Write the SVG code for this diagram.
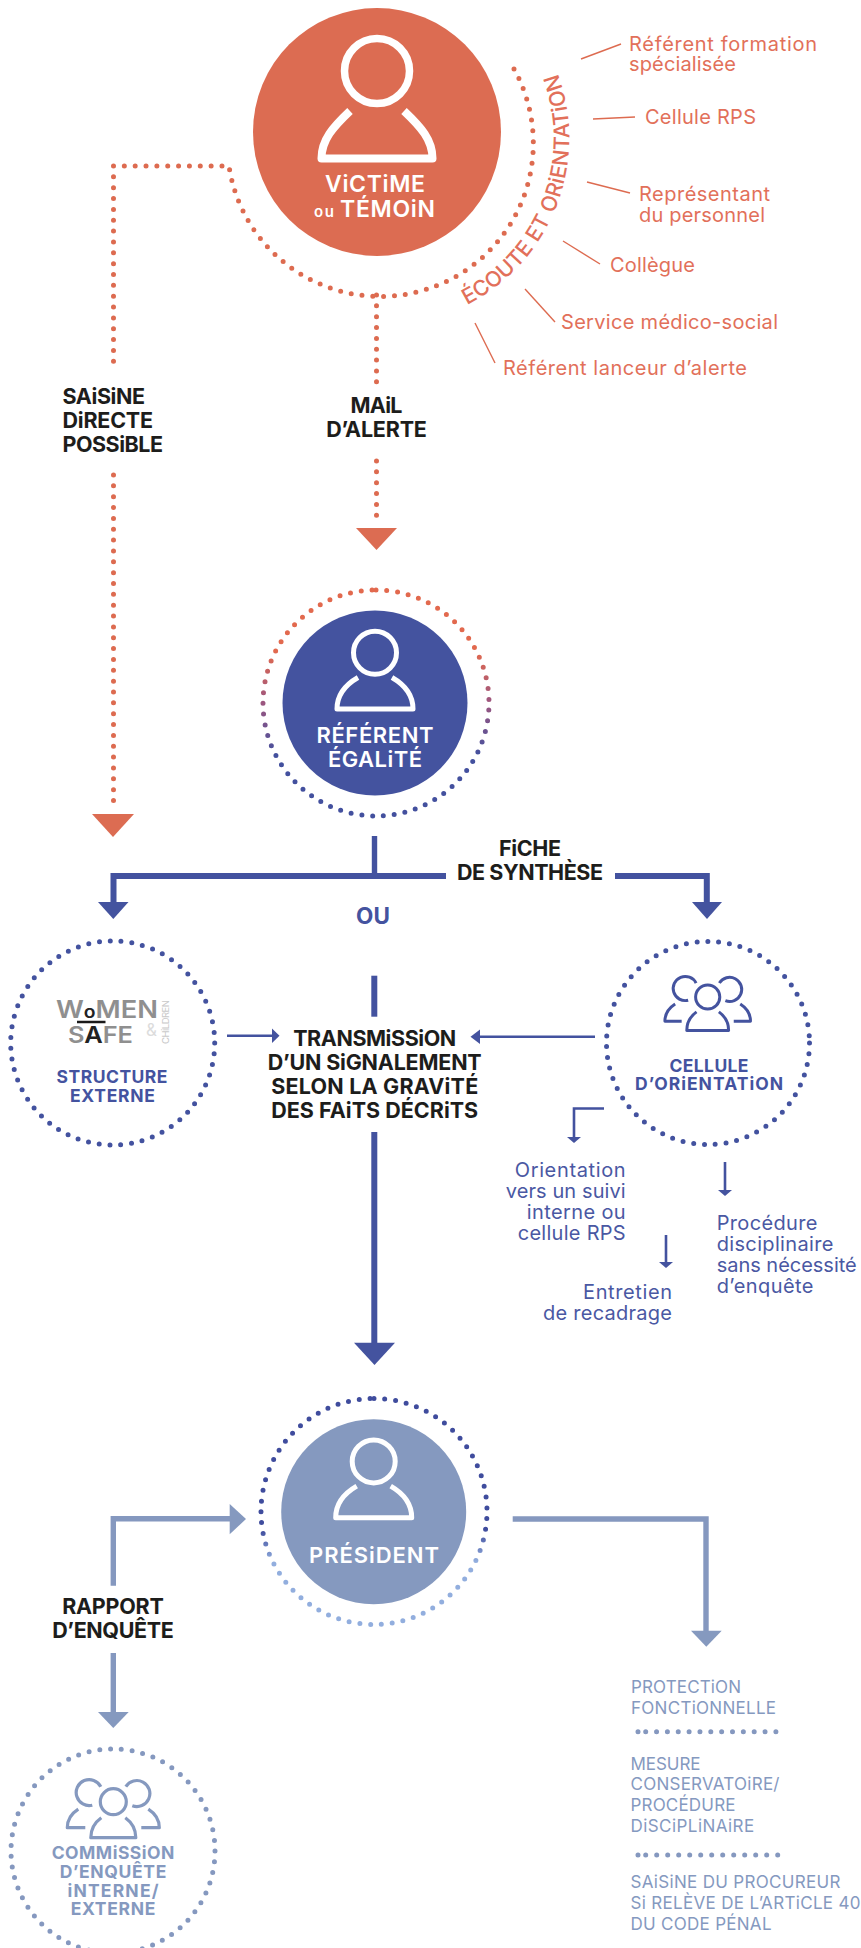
<svg xmlns="http://www.w3.org/2000/svg" xmlns:xlink="http://www.w3.org/1999/xlink" width="861" height="1948" viewBox="0 0 861 1948">
<style>
text{font-family:"Inter","Liberation Sans",sans-serif}
.dot{fill:none;stroke-width:5;stroke-linecap:round;stroke-dasharray:0 10.85}
.or{stroke:#dd6b50}.bl{stroke:#43529f}.pe{stroke:#8598bf}
.forg{fill:#dc6c52}.fblu{fill:#44539f}.fper{fill:#8599bf}
.ln{fill:none;stroke-width:5.4}.ln6{fill:none;stroke-width:6}.thin{fill:none;stroke-width:2.6}
.tick{stroke:#dd6b50;stroke-width:1.4;fill:none}
.h{font-weight:700;font-size:21.5px;fill:#1d1d1b;text-anchor:middle}
.hs{font-weight:700;font-size:21.5px;fill:#1d1d1b}
.w{font-weight:600;fill:#fff;text-anchor:middle}
.lab{font-weight:700;font-size:17.5px;text-anchor:middle}
.ot{font-size:20px;fill:#e2705a}
.bt{font-size:20px;fill:#4a58a3}
.pt{font-size:17px;fill:#8599bf}
.ic{fill:none;stroke:#fff;stroke-width:5;stroke-linejoin:round}
.pp{fill:none;stroke-width:3.2;stroke-linejoin:round}
</style>
<defs>
<linearGradient id="gr" gradientUnits="userSpaceOnUse" x1="0" y1="590" x2="0" y2="816">
<stop offset="0.27" stop-color="#e2694e"/><stop offset="0.5" stop-color="#9c5680"/><stop offset="0.73" stop-color="#43509e"/>
</linearGradient>
<linearGradient id="gp" gradientUnits="userSpaceOnUse" x1="0" y1="1398" x2="0" y2="1625">
<stop offset="0.58" stop-color="#3f4c9d"/><stop offset="0.72" stop-color="#92aede"/>
</linearGradient>
<g id="person"><circle cx="0" cy="-50.3" r="21.5"/><path d="M-17,-25.5 C-30,-18 -38,-7 -38,6 L38,6 C38,-7 30,-18 17,-25.5"/></g>
<g id="people">
<circle cx="0" cy="0" r="13"/>
<path d="M-12.5,-15 A13,13 0 1 0 -21,3.5"/>
<path d="M12.5,-15 A13,13 0 1 1 19,4"/>
<path d="M-35,7.5 C-42,12 -46,19 -46,26 L-28,26"/>
<path d="M35,7.5 C42,12 46,19 46,26 L28,26"/>
<path d="M-12,16 C-19,21 -22.500,28 -22.500,36 L22.500,36 C22.500,28 19,21 12,16"/>
</g>
</defs>

<g id="connectors">
<path class="dot or" d="M514,69 A153,153 0 1 1 229,166 L113.500,166 L113.500,367"/>
<path class="dot or" d="M113.500,475 V810"/>
<polygon class="forg" points="92,814 134,814 113,837"/>
<path class="dot or" d="M376.500,295 V385"/>
<path class="dot or" d="M376.500,461 V526"/>
<polygon class="forg" points="356,528 397,528 376.500,550"/>
<g class="tick">
<path d="M581,59 L621,44"/><path d="M593,119 L635,117"/><path d="M587,182 L630,193"/>
<path d="M563,241 L600,264"/><path d="M525,289 L555,322"/><path d="M475,323 L495,363"/>
</g>
<path class="ln bl" d="M374.500,836 V876"/>
<path class="ln6 bl" d="M446,876 H113.500 V904"/>
<path class="ln6 bl" d="M615,876 H706.800 V904"/>
<polygon class="fblu" points="98,902 128.500,902 113.300,919"/>
<polygon class="fblu" points="692,902 722,902 707,919"/>
<path class="thin bl" d="M227,1035.700 H274"/>
<polygon class="fblu" points="272,1028.500 279.500,1035.700 272,1043"/>
<path class="thin bl" d="M595,1036.700 H478"/>
<polygon class="fblu" points="480,1029.500 470.500,1036.700 480,1044"/>
<path class="ln6 bl" d="M374.300,975.700 V1016.700"/>
<path class="ln6 bl" d="M374.300,1132 V1344"/>
<polygon class="fblu" points="354,1342.700 395,1342.700 374.500,1365"/>
<path class="thin bl" d="M604,1108.500 H574 V1138"/>
<polygon class="fblu" points="567,1137 581,1137 574,1143"/>
<path class="thin bl" d="M725,1162 V1192"/>
<polygon class="fblu" points="718,1190 732,1190 725,1196"/>
<path class="thin bl" d="M666,1235 V1264"/>
<polygon class="fblu" points="659,1262 673,1262 666,1268"/>
<path class="ln pe" d="M113.300,1585.700 V1518.700 H232"/>
<polygon class="fper" points="229.700,1504 246,1519 229.700,1534.300"/>
<path class="ln pe" d="M113.300,1653 V1714"/>
<polygon class="fper" points="98,1712 128.700,1712 113.300,1728"/>
<path class="ln pe" d="M512.700,1519 H706 V1632"/>
<polygon class="fper" points="691,1630.700 721.700,1630.700 706.300,1646.700"/>
</g>

<g id="node-victime">
<circle class="forg" cx="377" cy="132" r="124"/>
<circle cx="377" cy="71" r="32.500" fill="none" stroke="#fff" stroke-width="7.500"/>
<path class="ic" style="stroke-width:8" d="M350,111 C333,127 321.500,140 321.500,158.500 L432.500,158.500 C432.500,140 421,127 404,111"/>
<text class="w" x="375" y="192" font-size="23" textLength="100">ViCTiME</text>
<text class="w" x="324" y="217" font-size="15" textLength="20">ou</text>
<text class="w" x="387.500" y="217" font-size="23" textLength="95">TÉMOiN</text>
</g>
<g id="ring-ecoute">
<path id="arcE" d="M467,305 A187,187 0 0 0 553,62" fill="none"/>
<text font-size="21.500" font-weight="500" fill="#e2705a" textLength="272"><textPath xlink:href="#arcE" href="#arcE">ÉCOUTE ET ORiENTATiON</textPath></text>
</g>
<g id="labels-ecoute">
<text class="ot" x="629" y="51" textLength="188">Référent formation</text>
<text class="ot" x="629" y="71" textLength="107">spécialisée</text>
<text class="ot" x="645" y="124" textLength="111">Cellule RPS</text>
<text class="ot" x="639" y="201" textLength="131">Représentant</text>
<text class="ot" x="639" y="222" textLength="126">du personnel</text>
<text class="ot" x="610" y="272" textLength="85">Collègue</text>
<text class="ot" x="561" y="329" textLength="217">Service médico-social</text>
<text class="ot" x="503" y="375" textLength="244">Référent lanceur d’alerte</text>
</g>
<g id="label-saisine">
<text class="hs" x="62.500" y="404" textLength="82.500">SAiSiNE</text>
<text class="hs" x="62.500" y="428" textLength="90.500">DiRECTE</text>
<text class="hs" x="62.500" y="452" textLength="100.500">POSSiBLE</text>
</g>
<g id="label-mail">
<text class="h" x="376.500" y="412.700" textLength="52">MAiL</text>
<text class="h" x="376.500" y="436.700" textLength="100.700">D’ALERTE</text>
</g>

<g id="node-referent">
<circle class="fblu" cx="375" cy="703" r="92.500"/>
<path class="dot" stroke="url(#gr)" d="M376,590 A113,113 0 0 1 489,703 A113,113 0 0 1 376,816 A113,113 0 0 1 263,703 A113,113 0 0 1 376,590"/>
<use href="#person" x="375" y="703" class="ic"/>
<text class="w" x="375" y="742.700" font-size="22" textLength="117">RÉFÉRENT</text>
<text class="w" x="375" y="766.700" font-size="22" textLength="94">ÉGALiTÉ</text>
</g>
<g id="label-fiche">
<text class="h" x="530" y="856" textLength="62">FiCHE</text>
<text class="h" x="530" y="880" textLength="146">DE SYNTHÈSE</text>
</g>
<text id="label-ou" x="373" y="924" font-size="22.500" font-weight="700" fill="#44539f" text-anchor="middle">OU</text>

<g id="node-structure">
<circle class="dot bl" cx="112.700" cy="1043" r="102" fill="none"/>
<text x="56" y="1018" font-size="24" font-weight="600" fill="#8f8f8f" textLength="102" lengthAdjust="spacingAndGlyphs">W<tspan fill="#222" font-size="17">o</tspan>MEN</text>
<path d="M77,1022 H105.500" stroke="#1a1a1a" stroke-width="2.500" fill="none"/>
<text x="68" y="1043" font-size="23" font-weight="600" fill="#8f8f8f" textLength="65" lengthAdjust="spacingAndGlyphs">S<tspan fill="#222">A</tspan>FE</text>
<text x="146" y="1036" font-size="17" fill="#dcdcdc">&amp;</text>
<text transform="translate(169,1044) rotate(-90)" font-size="9.500" fill="#c9c9c9" textLength="44">CHiLDREN</text>
<text class="lab" x="112" y="1083" fill="#44539f" textLength="111">STRUCTURE</text>
<text class="lab" x="112.500" y="1102" fill="#44539f" textLength="85">EXTERNE</text>
</g>

<g id="node-transmission">
<text class="h" x="374.700" y="1046" textLength="163">TRANSMiSSiON</text>
<text class="h" x="374.700" y="1070" textLength="214">D’UN SiGNALEMENT</text>
<text class="h" x="374.700" y="1094" textLength="207">SELON LA GRAViTÉ</text>
<text class="h" x="374.700" y="1118" textLength="207">DES FAiTS DÉCRiTS</text>
</g>

<g id="node-cellule">
<circle class="dot bl" cx="708" cy="1043" r="101.500" fill="none"/>
<use href="#people" transform="translate(707.700,997) scale(.93)" class="pp" stroke="#44539f"/>
<text class="lab" x="709" y="1072" fill="#44539f" textLength="79">CELLULE</text>
<text class="lab" x="709" y="1090" fill="#44539f" textLength="148">D’ORiENTATiON</text>
</g>
<g id="labels-cellule">
<text class="bt" x="514.700" y="1177" textLength="111">Orientation</text>
<text class="bt" x="505.700" y="1198" textLength="120">vers un suivi</text>
<text class="bt" x="526.700" y="1219" textLength="99">interne ou</text>
<text class="bt" x="517.700" y="1240" textLength="108">cellule RPS</text>
<text class="bt" x="583" y="1299" textLength="89">Entretien</text>
<text class="bt" x="543" y="1320" textLength="129">de recadrage</text>
<text class="bt" x="716.700" y="1230" textLength="100.700">Procédure</text>
<text class="bt" x="716.700" y="1251" textLength="116.700">disciplinaire</text>
<text class="bt" x="716.700" y="1272" textLength="140">sans nécessité</text>
<text class="bt" x="716.700" y="1293" textLength="96.700">d’enquête</text>
</g>

<g id="node-president">
<circle class="fper" cx="373.700" cy="1511.700" r="92.500"/>
<path class="dot" stroke="url(#gp)" d="M374,1398.500 A113,113 0 0 1 487,1511.500 A113,113 0 0 1 374,1624.500 A113,113 0 0 1 261,1511.500 A113,113 0 0 1 374,1398.500"/>
<use href="#person" x="373.700" y="1511.700" class="ic"/>
<text class="w" x="374" y="1563" font-size="22" textLength="130">PRÉSiDENT</text>
</g>
<g id="label-rapport">
<text class="h" x="113" y="1614" textLength="101.700">RAPPORT</text>
<text class="h" x="113" y="1637.700" textLength="121.700">D’ENQUÊTE</text>
</g>

<g id="node-commission">
<circle class="dot pe" cx="113" cy="1851" r="102" fill="none"/>
<use href="#people" transform="translate(113.300,1801.700)" class="pp" stroke="#8599bf"/>
<text class="lab" x="113" y="1859.300" fill="#8599bf" textLength="122.700">COMMiSSiON</text>
<text class="lab" x="113" y="1878.300" fill="#8599bf" textLength="106.700">D’ENQUÊTE</text>
<text class="lab" x="113" y="1896.700" fill="#8599bf" textLength="91">iNTERNE/</text>
<text class="lab" x="113" y="1915.300" fill="#8599bf" textLength="84.700">EXTERNE</text>
</g>

<g id="labels-president">
<text class="pt" x="631" y="1692.700" textLength="110">PROTECTiON</text>
<text class="pt" x="631" y="1713.700" textLength="145">FONCTiONNELLE</text>
<path class="dot pe" d="M638,1731.700 H640 M645.700,1731.700 H777"/>
<text class="pt" x="630.500" y="1770" textLength="70">MESURE</text>
<text class="pt" x="630.500" y="1790" textLength="149">CONSERVATOiRE/</text>
<text class="pt" x="630.500" y="1811" textLength="105">PROCÉDURE</text>
<text class="pt" x="630.500" y="1832" textLength="123.600">DiSCiPLiNAiRE</text>
<path class="dot pe" style="stroke-dasharray:0 11" d="M638,1855 H640 M645.700,1855 H782"/>
<text class="pt" x="630.500" y="1888" textLength="210">SAiSiNE DU PROCUREUR</text>
<text class="pt" x="630.500" y="1909" textLength="230">Si RELÈVE DE L’ARTiCLE 40</text>
<text class="pt" x="630.500" y="1930" textLength="141">DU CODE PÉNAL</text>
</g>
</svg>
